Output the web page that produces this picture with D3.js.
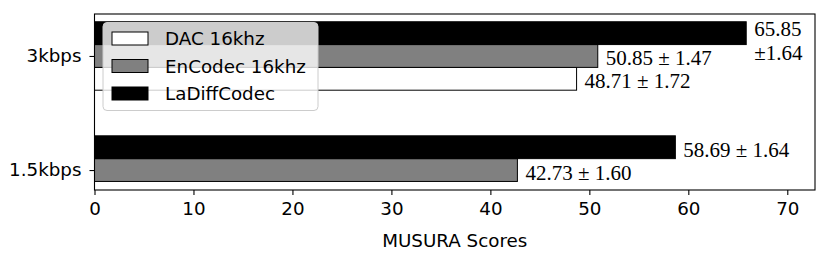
<!DOCTYPE html>
<html>
<head>
<meta charset="utf-8">
<script src="https://cdn.jsdelivr.net/npm/d3@7"></script>
<style>
  html, body { margin: 0; padding: 0; background: #fff; }
  svg { display: block; }
</style>
</head>
<body>
<svg id="chart" width="830" height="260"></svg>
<script>
// ---- data ----
const categories = ["3kbps", "1.5kbps"];
const seriesNames = ["DAC 16khz", "EnCodec 16khz", "LaDiffCodec"];
const dacMean = [48.71, null];
const dacErr = [1.72, null];
const encodecMean = [50.85, 42.73];
const encodecErr = [1.47, 1.60];
const ladiffMean = [65.85, 58.69];
const ladiffErr = [1.64, 1.64];
const xTicks = [0, 10, 20, 30, 40, 50, 60, 70];
const xLabel = "MUSURA Scores";

// ---- layout ----
const svg = d3.select("#chart");
const plotL = 94.5, plotR = 815, plotT = 14, plotB = 190;
const sans = "'DejaVu Sans', sans-serif";
const serif = "'Liberation Serif', 'Times New Roman', serif";
const fs = 18.3;
const vfs = 21;

const x = d3.scaleLinear().domain([0, 72.8]).range([plotL, plotR]);
const y = d3.scaleLinear().domain([-0.368, 1.175]).range([plotT, plotB]);
const barH = 0.2;

const series = [
  { name: seriesNames[0], mean: dacMean, err: dacErr, fill: "#ffffff", offset: 0.2 },
  { name: seriesNames[1], mean: encodecMean, err: encodecErr, fill: "#808080", offset: 0 },
  { name: seriesNames[2], mean: ladiffMean, err: ladiffErr, fill: "#000000", offset: -0.2 }
];

// bars
series.forEach(s => {
  const pts = categories.map((c, i) => ({ i, v: s.mean[i], e: s.err[i] })).filter(d => d.v != null);
  svg.append("g").selectAll("rect").data(pts).join("rect")
    .attr("x", x(0))
    .attr("y", d => y(d.i + s.offset - barH / 2))
    .attr("width", d => x(d.v) - x(0))
    .attr("height", d => y(barH) - y(0))
    .attr("fill", s.fill)
    .attr("stroke", "#000")
    .attr("stroke-width", 1);
});

// value labels
series.forEach(s => {
  categories.forEach((c, i) => {
    const v = s.mean[i];
    if (v == null) return;
    const cy = y(i + s.offset);
    const lx = x(v) + 8;
    const full = `${v.toFixed(2)} ± ${s.err[i].toFixed(2)}`;
    const t = svg.append("text")
      .attr("x", lx).attr("y", cy + 9.5)
      .attr("font-family", serif).attr("font-size", vfs)
      .attr("fill", "#000")
      .text(full);
    const w = t.node().getComputedTextLength();
    if (lx + w > plotR - 2) {
      t.text(v.toFixed(2)).attr("y", cy + 2.5);
      svg.append("text")
        .attr("x", lx).attr("y", cy + 26.5)
        .attr("font-family", serif).attr("font-size", vfs)
        .attr("fill", "#000")
        .text(`±${s.err[i].toFixed(2)}`);
    }
  });
});

// frame
svg.append("rect")
  .attr("x", plotL).attr("y", plotT)
  .attr("width", plotR - plotL).attr("height", plotB - plotT)
  .attr("fill", "none").attr("stroke", "#000").attr("stroke-width", 1.1);

// x axis
const xAxis = svg.append("g").attr("transform", `translate(0,${plotB})`)
  .call(d3.axisBottom(x).tickValues(xTicks).tickFormat(d3.format("d")).tickSize(5).tickPadding(7));
xAxis.select(".domain").remove();
xAxis.selectAll("line").attr("stroke", "#000").attr("stroke-width", 1.1);
xAxis.selectAll("text").attr("font-family", sans).attr("font-size", fs).attr("fill", "#000");

// y axis
const yAxis = svg.append("g").attr("transform", `translate(${plotL},0)`)
  .call(d3.axisLeft(y).tickValues(categories.map((c, i) => i)).tickFormat(i => categories[i]).tickSize(5).tickPadding(8));
yAxis.select(".domain").remove();
yAxis.selectAll("line").attr("stroke", "#000").attr("stroke-width", 1.1);
yAxis.selectAll("text").attr("font-family", sans).attr("font-size", fs).attr("fill", "#000");

// x label
svg.append("text")
  .attr("x", (plotL + plotR) / 2).attr("y", 247)
  .attr("text-anchor", "middle")
  .attr("font-family", sans).attr("font-size", fs).attr("fill", "#000")
  .text(xLabel);

// legend
const lg = svg.append("g");
lg.append("rect")
  .attr("x", 103).attr("y", 22.5).attr("width", 215).attr("height", 88)
  .attr("rx", 4).attr("ry", 4)
  .attr("fill", "#fff").attr("fill-opacity", 0.8)
  .attr("stroke", "#cccccc").attr("stroke-width", 1);
series.forEach((s, k) => {
  const ry = 32 + k * 27.5;
  lg.append("rect")
    .attr("x", 112).attr("y", ry).attr("width", 36).attr("height", 13)
    .attr("fill", s.fill).attr("stroke", "#000").attr("stroke-width", 1);
  lg.append("text")
    .attr("x", 165).attr("y", ry + 13)
    .attr("font-family", sans).attr("font-size", fs).attr("fill", "#000")
    .text(s.name);
});
</script>
</body>
</html>
